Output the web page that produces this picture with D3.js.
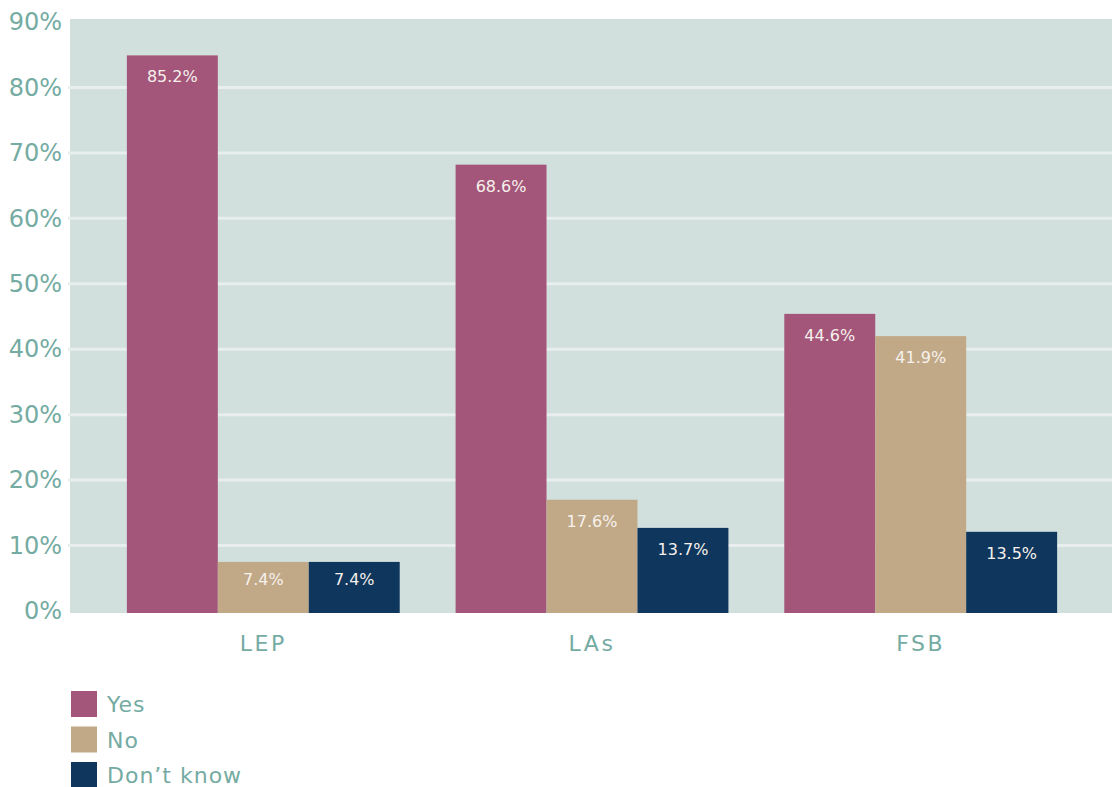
<!DOCTYPE html>
<html>
<head>
<meta charset="utf-8">
<script src="https://cdn.jsdelivr.net/npm/d3@7"></script>
<style>
  body { margin: 0; background: #fff; }
  text { font-family: "DejaVu Sans", sans-serif; }
</style>
</head>
<body>
<div id="chart"></div>
<script>
var categories = ['LEP', 'LAs', 'FSB']
var seriesNames = ['Yes', 'No', 'Don\u2019t know']
var seriesColors = ['#a4567a', '#c1a988', '#0f365c']

// bar heights as drawn in the picture (%)
var yesValues = [84.9, 68.2, 45.4]
var noValues = [7.5, 17.0, 42.0]
var dkValues = [7.5, 12.7, 12.1]

// the printed data labels
var yesLabels = ['85.2%', '68.6%', '44.6%']
var noLabels = ['7.4%', '17.6%', '41.9%']
var dkLabels = ['7.4%', '13.7%', '13.5%']

var yTicks = [0, 10, 20, 30, 40, 50, 60, 70, 80, 90]

var width = 1112, height = 787
var plot = {left: 70, right: 1112, top: 19, bottom: 613}
var textColor = '#74aba2'

var series = [
  {name: seriesNames[0], color: seriesColors[0], values: yesValues, labels: yesLabels},
  {name: seriesNames[1], color: seriesColors[1], values: noValues, labels: noLabels},
  {name: seriesNames[2], color: seriesColors[2], values: dkValues, labels: dkLabels}
]

var svg = d3.select('#chart').append('svg')
  .attr('width', width)
  .attr('height', height)

var x0 = d3.scaleBand()
  .domain(categories)
  .range([plot.left + 1, plot.right + 1])
  .paddingInner(0.17)
  .paddingOuter(0.17)

var x1 = d3.scaleBand()
  .domain(d3.range(series.length))
  .range([0, x0.bandwidth()])

var y = d3.scaleLinear().domain([0, 90]).range([611, 22])

// plot background
svg.append('rect')
  .attr('x', plot.left)
  .attr('y', plot.top)
  .attr('width', plot.right - plot.left)
  .attr('height', plot.bottom - plot.top)
  .attr('fill', '#d1e0dd')

// gridlines (the 90% one sits on the plot edge and is not drawn)
svg.append('g')
  .selectAll('line')
  .data(yTicks.filter(function(d) { return d > 0 && d < 90 }))
  .join('line')
  .attr('x1', plot.left - 2)
  .attr('x2', plot.right)
  .attr('y1', function(d) { return y(d) })
  .attr('y2', function(d) { return y(d) })
  .attr('stroke', '#e7eeed')
  .attr('stroke-width', 3)

// y axis
var yAxis = d3.axisLeft(y)
  .tickValues(yTicks)
  .tickSize(0)
  .tickPadding(8)
  .tickFormat(function(d) { return d + '%' })

svg.append('g')
  .attr('transform', 'translate(' + plot.left + ',0)')
  .call(yAxis)
  .call(function(g) { g.select('.domain').remove() })
  .selectAll('text')
  .attr('fill', textColor)
  .attr('font-size', 24)
  .style('font-family', '"DejaVu Sans", sans-serif')

// x axis
var xAxis = d3.axisBottom(x0).tickSize(0).tickPadding(22)

svg.append('g')
  .attr('transform', 'translate(0,' + plot.bottom + ')')
  .call(xAxis)
  .call(function(g) { g.select('.domain').remove() })
  .selectAll('text')
  .attr('fill', textColor)
  .attr('font-size', 22)
  .attr('letter-spacing', 2.5)
  .style('font-family', '"DejaVu Sans", sans-serif')

// bars
var groups = svg.append('g')
  .selectAll('g')
  .data(series)
  .join('g')
  .attr('fill', function(d) { return d.color })

groups.selectAll('rect')
  .data(function(s, si) {
    return categories.map(function(c, i) { return {cat: c, si: si, v: s.values[i], label: s.labels[i]} })
  })
  .join('rect')
  .attr('x', function(d) { return x0(d.cat) + x1(d.si) })
  .attr('width', x1.bandwidth())
  .attr('y', function(d) { return y(d.v) })
  .attr('height', function(d) { return plot.bottom - y(d.v) })

groups.selectAll('text')
  .data(function(s, si) {
    return categories.map(function(c, i) { return {cat: c, si: si, v: s.values[i], label: s.labels[i]} })
  })
  .join('text')
  .attr('x', function(d) { return x0(d.cat) + x1(d.si) + x1.bandwidth() / 2 })
  .attr('y', function(d) { return Math.min(y(d.v) + 27, 585) })
  .attr('text-anchor', 'middle')
  .attr('fill', '#f6f1ec')
  .attr('font-size', 16)
  .text(function(d) { return d.label })

// legend
var legend = svg.append('g')
  .selectAll('g')
  .data(series)
  .join('g')
  .attr('transform', function(d, i) { return 'translate(71,' + (691 + i * 35.5) + ')' })

legend.append('rect')
  .attr('width', 26)
  .attr('height', 26)
  .attr('fill', function(d) { return d.color })

legend.append('text')
  .attr('x', 36)
  .attr('y', 21)
  .attr('fill', textColor)
  .attr('font-size', 22)
  .attr('letter-spacing', 1)
  .text(function(d) { return d.name })
</script>
</body>
</html>
